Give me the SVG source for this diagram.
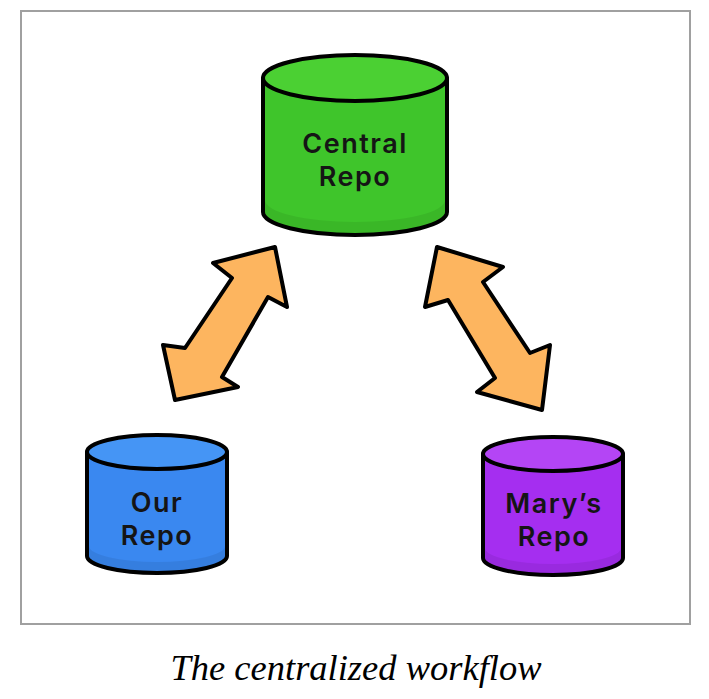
<svg xmlns="http://www.w3.org/2000/svg" width="709" height="699" viewBox="0 0 709 699">
<style>
.frame{fill:#fff;stroke:#a0a0a0;stroke-width:2}
.cyl{stroke:#000;stroke-width:4;stroke-linejoin:round}
.shade{fill:#000;opacity:0.07}
.lbl{font-family:Inter,"Liberation Sans",sans-serif;font-weight:600;font-size:27px;letter-spacing:1.5px;fill:#151515;text-anchor:middle}
.arrow{fill:#fdb55f;stroke:#000;stroke-width:4;stroke-linejoin:round}
.cap{font-family:"Liberation Serif",serif;font-style:italic;font-size:36.5px;fill:#000;text-anchor:middle}
</style>
<rect x="0" y="0" width="709" height="699" fill="#fff"/>
<rect class="frame" x="21" y="11" width="669" height="613"/>

<g id="central">
  <path class="cyl" fill="#3fc52b" d="M263,78 L263,212 A92,23 0 0 0 447,212 L447,78 Z"/>
  <path class="shade" d="M265,200 A90,22 0 0 0 445,200 L445,212 A90,22 0 0 1 265,212 Z"/>
  <ellipse class="cyl" fill="#4bd033" cx="355" cy="78" rx="92" ry="23"/>
  <text class="lbl" x="355" y="153">Central</text>
  <text class="lbl" x="355" y="186">Repo</text>
</g>

<g id="our">
  <path class="cyl" fill="#3a88f0" d="M87,452 L87,556 A70,17 0 0 0 227,556 L227,452 Z"/>
  <path class="shade" d="M89,546 A68,16 0 0 0 225,546 L225,556 A68,16 0 0 1 89,556 Z"/>
  <ellipse class="cyl" fill="#4595f5" cx="157" cy="452" rx="70" ry="17"/>
  <text class="lbl" x="157" y="512">Our</text>
  <text class="lbl" x="157" y="545">Repo</text>
</g>

<g id="mary">
  <path class="cyl" fill="#a52ef0" d="M483,454 L483,558 A70,17 0 0 0 623,558 L623,454 Z"/>
  <path class="shade" d="M485,548 A68,16 0 0 0 621,548 L621,558 A68,16 0 0 1 485,558 Z"/>
  <ellipse class="cyl" fill="#b445f5" cx="553" cy="454" rx="70" ry="17"/>
  <text class="lbl" x="554" y="513">Mary’s</text>
  <text class="lbl" x="554" y="546">Repo</text>
</g>

<g id="connectors">
  <polygon class="arrow" points="275,247 287,307 268,297 222,377 238,387 175,400 163,345 185,348 232,278 213,263"/>
  <polygon class="arrow" points="437,247 503,267 483,282 530,353 550,345 542,410 477,392 495,378 448,300 425,307"/>
</g>

<text class="cap" x="356" y="680">The centralized workflow</text>
</svg>
